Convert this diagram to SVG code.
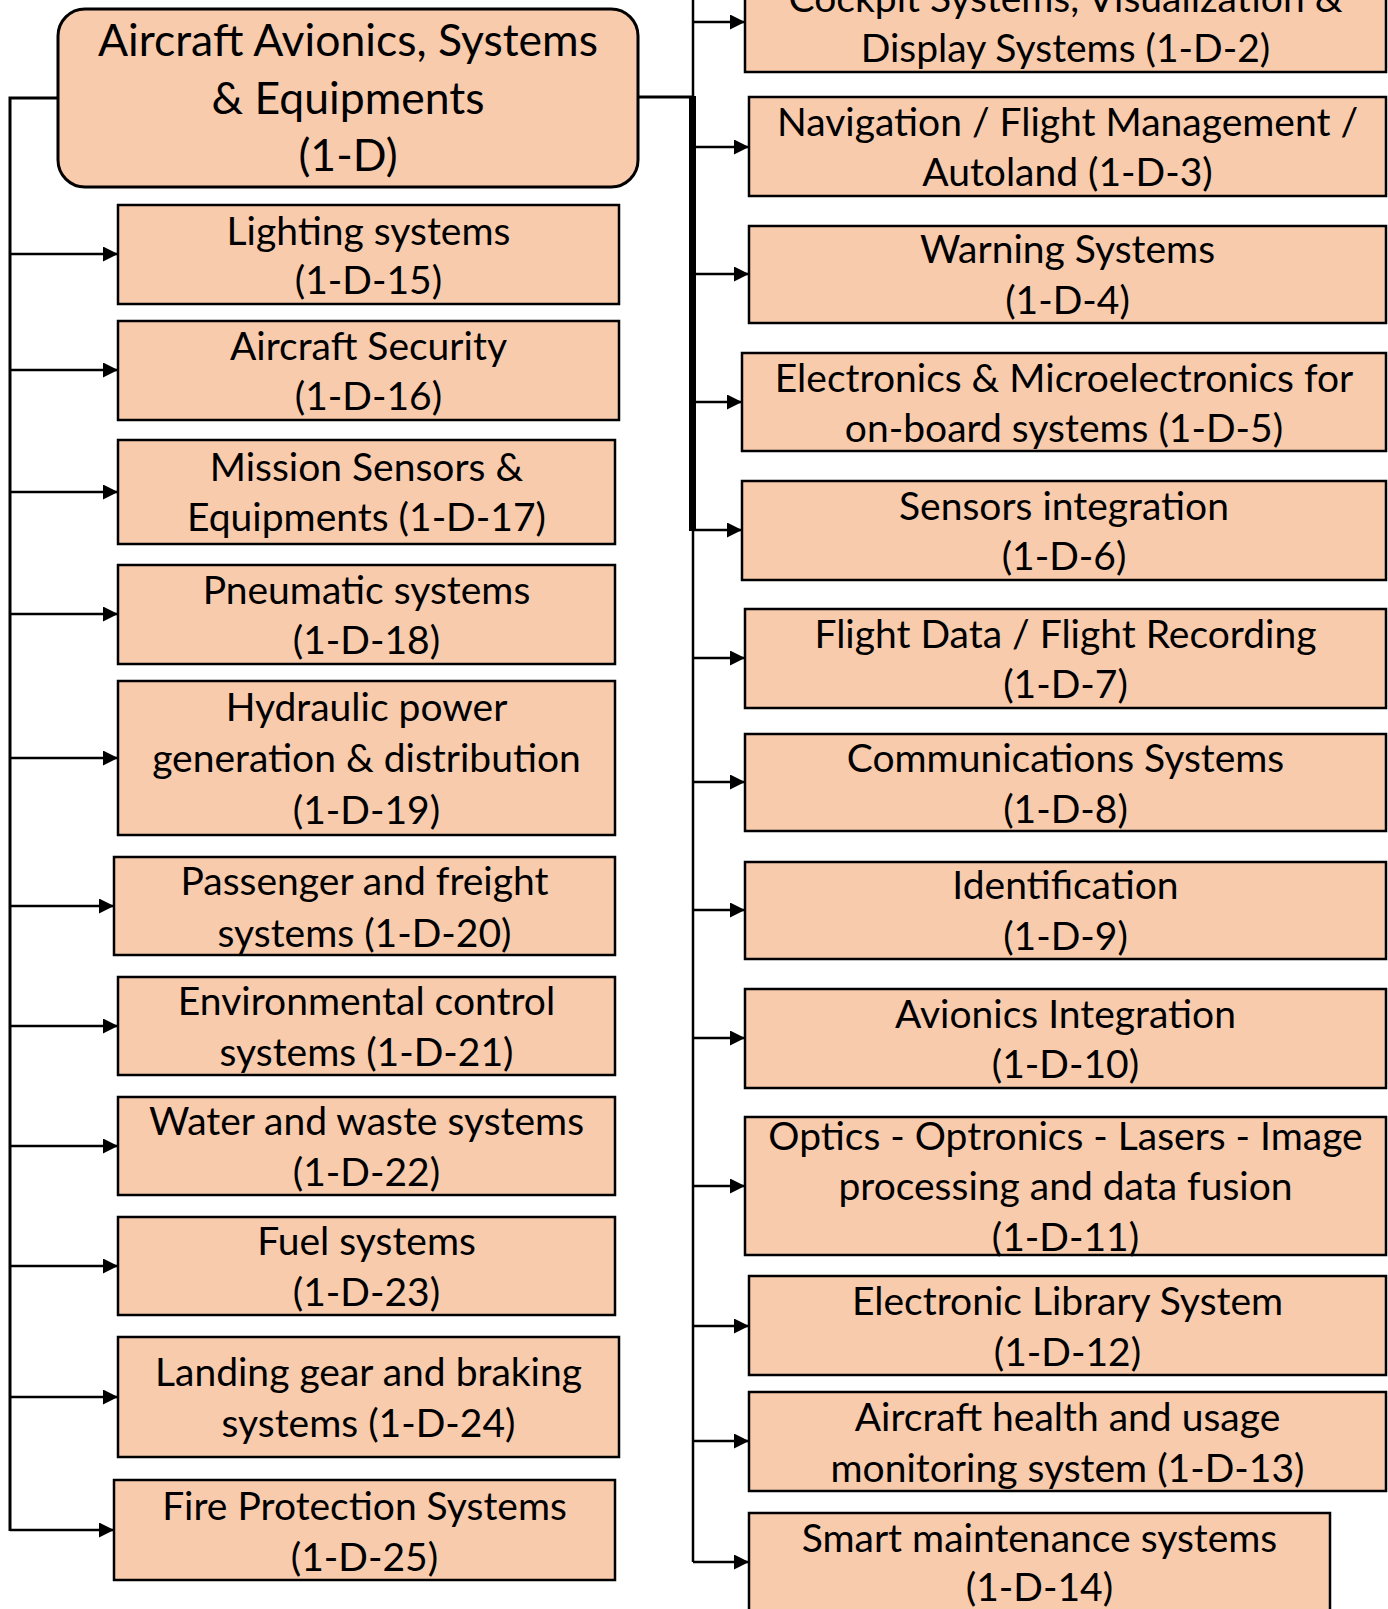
<svg xmlns="http://www.w3.org/2000/svg" width="1388" height="1609" viewBox="0 0 1388 1609">
  <style>
    .box { fill: #F8CBAD; stroke: #000; stroke-width: 2.5; }
    .root { fill: #F8CBAD; stroke: #000; stroke-width: 3; }
    .lbl { font-family: Lato, "Open Sans", "Liberation Sans", sans-serif; font-size: 39px; fill: #000; text-anchor: middle; }
    .rootlbl { font-size: 44.5px; }
    .wire { fill: none; stroke: #000; stroke-width: 2.5; }
    .trunk { fill: none; stroke: #000; stroke-width: 7; }
    .feed { fill: none; stroke: #000; stroke-width: 3; }
  </style>
  <defs>
    <marker id="arrow" markerUnits="userSpaceOnUse" markerWidth="16" markerHeight="16" refX="15" refY="7.5" orient="auto">
      <path d="M0,0 L15,7.5 L0,15 Z" fill="#000"/>
    </marker>
  </defs>

  <rect width="1388" height="1609" fill="#fff"/>

  <!-- connectors -->
  <g id="connectors">
    <!-- left branch -->
    <path class="feed" d="M58,98 H10 V1531"/>
    <path class="wire" d="M10,254 H118" marker-end="url(#arrow)"/>
    <path class="wire" d="M10,370 H118" marker-end="url(#arrow)"/>
    <path class="wire" d="M10,492 H118" marker-end="url(#arrow)"/>
    <path class="wire" d="M10,614 H118" marker-end="url(#arrow)"/>
    <path class="wire" d="M10,758 H118" marker-end="url(#arrow)"/>
    <path class="wire" d="M10,906 H114" marker-end="url(#arrow)"/>
    <path class="wire" d="M10,1026 H118" marker-end="url(#arrow)"/>
    <path class="wire" d="M10,1146 H118" marker-end="url(#arrow)"/>
    <path class="wire" d="M10,1266 H118" marker-end="url(#arrow)"/>
    <path class="wire" d="M10,1397 H118" marker-end="url(#arrow)"/>
    <path class="wire" d="M10,1530 H114" marker-end="url(#arrow)"/>
    <!-- right branch -->
    <path class="feed" d="M638,97 H693"/>
    <path class="wire" d="M693,0 V1562"/>
    <path class="trunk" d="M692.5,96 V531"/>
    <path class="wire" d="M693,22 H745" marker-end="url(#arrow)"/>
    <path class="wire" d="M693,147 H749" marker-end="url(#arrow)"/>
    <path class="wire" d="M693,274 H749" marker-end="url(#arrow)"/>
    <path class="wire" d="M693,402 H742" marker-end="url(#arrow)"/>
    <path class="wire" d="M693,530 H742" marker-end="url(#arrow)"/>
    <path class="wire" d="M693,658 H745" marker-end="url(#arrow)"/>
    <path class="wire" d="M693,782 H745" marker-end="url(#arrow)"/>
    <path class="wire" d="M693,910 H745" marker-end="url(#arrow)"/>
    <path class="wire" d="M693,1038 H745" marker-end="url(#arrow)"/>
    <path class="wire" d="M693,1186 H745" marker-end="url(#arrow)"/>
    <path class="wire" d="M693,1326 H749" marker-end="url(#arrow)"/>
    <path class="wire" d="M693,1441 H749" marker-end="url(#arrow)"/>
    <path class="wire" d="M693,1562 H749" marker-end="url(#arrow)"/>
  </g>

  <!-- root -->
  <g id="n-1-D">
    <rect class="root" x="58" y="9" width="580" height="178" rx="27"/>
    <text class="lbl rootlbl" x="348" y="56">Aircraft Avionics, Systems</text>
    <text class="lbl rootlbl" x="348" y="114">&amp; Equipments</text>
    <text class="lbl rootlbl" x="348" y="171">(1-D)</text>
  </g>

  <!-- left column -->
  <g id="n-1-D-15">
    <rect class="box" x="118" y="205" width="501" height="99"/>
    <text class="lbl" x="368.5" y="245">Lighting systems</text>
    <text class="lbl" x="368.5" y="294">(1-D-15)</text>
  </g>
  <g id="n-1-D-16">
    <rect class="box" x="118" y="321" width="501" height="99"/>
    <text class="lbl" x="368.5" y="360">Aircraft Security</text>
    <text class="lbl" x="368.5" y="410">(1-D-16)</text>
  </g>
  <g id="n-1-D-17">
    <rect class="box" x="118" y="440" width="497" height="104"/>
    <text class="lbl" x="366.5" y="481">Mission Sensors &amp;</text>
    <text class="lbl" x="366.5" y="531">Equipments (1-D-17)</text>
  </g>
  <g id="n-1-D-18">
    <rect class="box" x="118" y="565" width="497" height="99"/>
    <text class="lbl" x="366.5" y="604">Pneumatic systems</text>
    <text class="lbl" x="366.5" y="654">(1-D-18)</text>
  </g>
  <g id="n-1-D-19">
    <rect class="box" x="118" y="681" width="497" height="154"/>
    <text class="lbl" x="366.5" y="721">Hydraulic power</text>
    <text class="lbl" x="366.5" y="772">generation &amp; distribution</text>
    <text class="lbl" x="366.5" y="824">(1-D-19)</text>
  </g>
  <g id="n-1-D-20">
    <rect class="box" x="114" y="857" width="501" height="98"/>
    <text class="lbl" x="364.5" y="895">Passenger and freight</text>
    <text class="lbl" x="364.5" y="947">systems (1-D-20)</text>
  </g>
  <g id="n-1-D-21">
    <rect class="box" x="118" y="977" width="497" height="98"/>
    <text class="lbl" x="366.5" y="1015">Environmental control</text>
    <text class="lbl" x="366.5" y="1066">systems (1-D-21)</text>
  </g>
  <g id="n-1-D-22">
    <rect class="box" x="118" y="1097" width="497" height="98"/>
    <text class="lbl" x="366.5" y="1135">Water and waste systems</text>
    <text class="lbl" x="366.5" y="1186">(1-D-22)</text>
  </g>
  <g id="n-1-D-23">
    <rect class="box" x="118" y="1217" width="497" height="98"/>
    <text class="lbl" x="366.5" y="1255">Fuel systems</text>
    <text class="lbl" x="366.5" y="1306">(1-D-23)</text>
  </g>
  <g id="n-1-D-24">
    <rect class="box" x="118" y="1337" width="501" height="120"/>
    <text class="lbl" x="368.5" y="1386">Landing gear and braking</text>
    <text class="lbl" x="368.5" y="1437">systems (1-D-24)</text>
  </g>
  <g id="n-1-D-25">
    <rect class="box" x="114" y="1480" width="501" height="100"/>
    <text class="lbl" x="364.5" y="1520">Fire Protection Systems</text>
    <text class="lbl" x="364.5" y="1571">(1-D-25)</text>
  </g>

  <!-- right column -->
  <g id="n-1-D-2">
    <rect class="box" x="745" y="-28" width="641" height="100"/>
    <text class="lbl" x="1065.5" y="12">Cockpit Systems, Visualization &amp;</text>
    <text class="lbl" x="1065.5" y="62">Display Systems (1-D-2)</text>
  </g>
  <g id="n-1-D-3">
    <rect class="box" x="749" y="97" width="637" height="99"/>
    <text class="lbl" x="1067.5" y="136">Navigation / Flight Management /</text>
    <text class="lbl" x="1067.5" y="186">Autoland (1-D-3)</text>
  </g>
  <g id="n-1-D-4">
    <rect class="box" x="749" y="226" width="637" height="97"/>
    <text class="lbl" x="1067.5" y="263">Warning Systems</text>
    <text class="lbl" x="1067.5" y="314">(1-D-4)</text>
  </g>
  <g id="n-1-D-5">
    <rect class="box" x="742" y="353" width="644" height="98"/>
    <text class="lbl" x="1064" y="392">Electronics &amp; Microelectronics for</text>
    <text class="lbl" x="1064" y="442">on-board systems (1-D-5)</text>
  </g>
  <g id="n-1-D-6">
    <rect class="box" x="742" y="481" width="644" height="99"/>
    <text class="lbl" x="1064" y="520">Sensors integration</text>
    <text class="lbl" x="1064" y="570">(1-D-6)</text>
  </g>
  <g id="n-1-D-7">
    <rect class="box" x="745" y="609" width="641" height="99"/>
    <text class="lbl" x="1065.5" y="648">Flight Data / Flight Recording</text>
    <text class="lbl" x="1065.5" y="698">(1-D-7)</text>
  </g>
  <g id="n-1-D-8">
    <rect class="box" x="745" y="734" width="641" height="97"/>
    <text class="lbl" x="1065.5" y="772">Communications Systems</text>
    <text class="lbl" x="1065.5" y="823">(1-D-8)</text>
  </g>
  <g id="n-1-D-9">
    <rect class="box" x="745" y="862" width="641" height="97"/>
    <text class="lbl" x="1065.5" y="899">Identification</text>
    <text class="lbl" x="1065.5" y="950">(1-D-9)</text>
  </g>
  <g id="n-1-D-10">
    <rect class="box" x="745" y="989" width="641" height="99"/>
    <text class="lbl" x="1065.5" y="1028">Avionics Integration</text>
    <text class="lbl" x="1065.5" y="1078">(1-D-10)</text>
  </g>
  <g id="n-1-D-11">
    <rect class="box" x="745" y="1117" width="641" height="138"/>
    <text class="lbl" x="1065.5" y="1150">Optics - Optronics - Lasers - Image</text>
    <text class="lbl" x="1065.5" y="1200">processing and data fusion</text>
    <text class="lbl" x="1065.5" y="1251">(1-D-11)</text>
  </g>
  <g id="n-1-D-12">
    <rect class="box" x="749" y="1276" width="637" height="99"/>
    <text class="lbl" x="1067.5" y="1315">Electronic Library System</text>
    <text class="lbl" x="1067.5" y="1366">(1-D-12)</text>
  </g>
  <g id="n-1-D-13">
    <rect class="box" x="749" y="1392" width="637" height="99"/>
    <text class="lbl" x="1067.5" y="1431">Aircraft health and usage</text>
    <text class="lbl" x="1067.5" y="1482">monitoring system (1-D-13)</text>
  </g>
  <g id="n-1-D-14">
    <rect class="box" x="749" y="1513" width="581" height="100"/>
    <text class="lbl" x="1039.5" y="1552">Smart maintenance systems</text>
    <text class="lbl" x="1039.5" y="1601">(1-D-14)</text>
  </g>
</svg>
